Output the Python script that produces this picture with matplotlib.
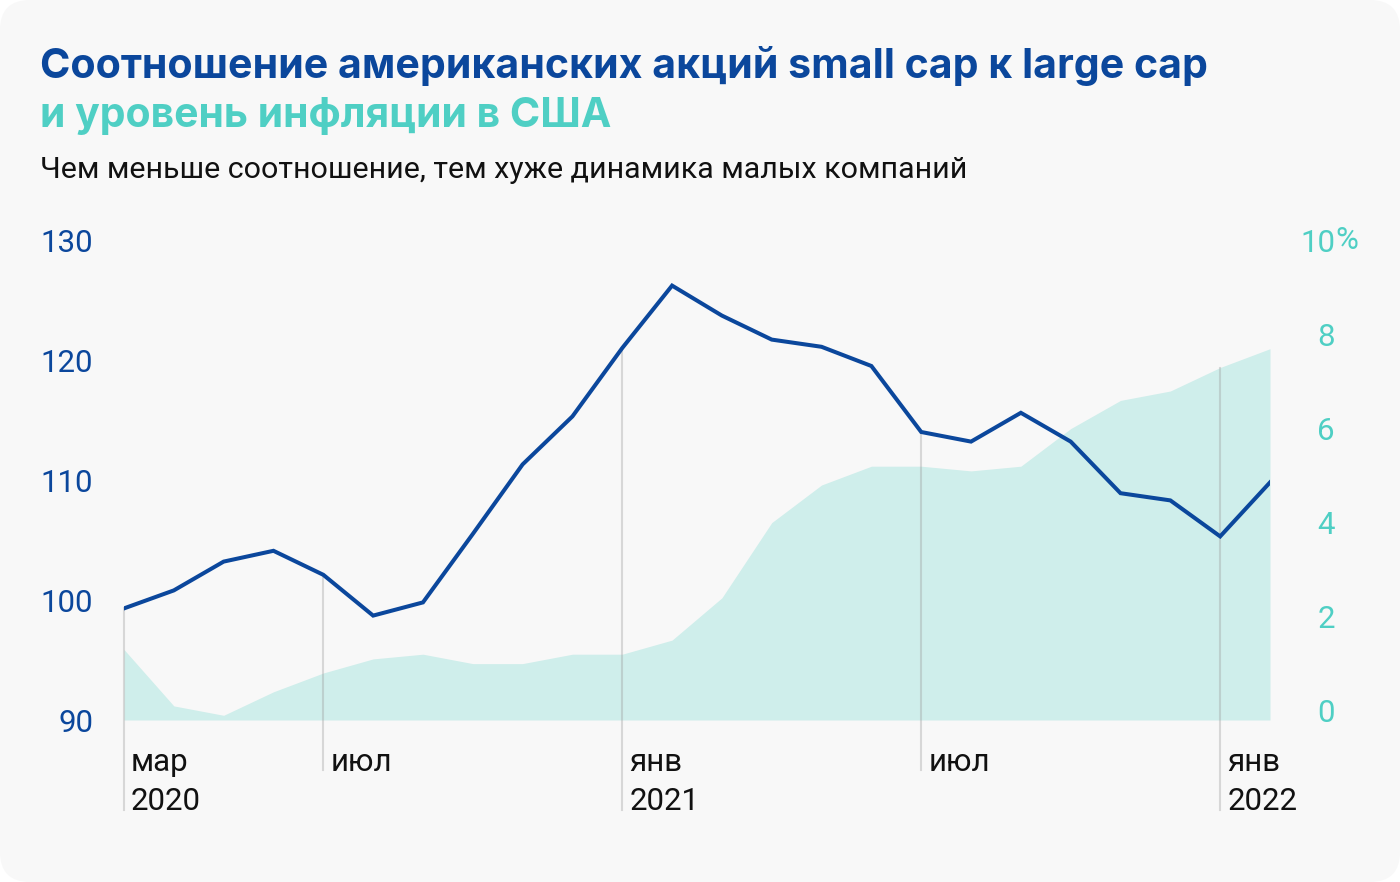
import numpy as np
import matplotlib.pyplot as plt
import matplotlib.patches as mpatches
from matplotlib.transforms import IdentityTransform, ScaledTranslation

# Monthly data, Mar 2020 .. Feb 2022
MONTHS = ["2020-03", "2020-04", "2020-05", "2020-06", "2020-07", "2020-08",
          "2020-09", "2020-10", "2020-11", "2020-12", "2021-01", "2021-02",
          "2021-03", "2021-04", "2021-05", "2021-06", "2021-07", "2021-08",
          "2021-09", "2021-10", "2021-11", "2021-12", "2022-01", "2022-02"]
# small cap / large cap ratio
RATIO = [99.3, 100.8, 103.2, 104.1, 102.1, 98.7, 99.8, 105.5, 111.3, 115.3,
         121.0, 126.2, 123.7, 121.7, 121.1, 119.5, 114.0, 113.2, 115.6, 113.2,
         108.9, 108.3, 105.3, 109.8]
# US CPI, % y/y
INFLATION = [1.5, 0.3, 0.1, 0.6, 1.0, 1.3, 1.4, 1.2, 1.2, 1.4, 1.4, 1.7,
             2.6, 4.2, 5.0, 5.4, 5.4, 5.3, 5.4, 6.2, 6.8, 7.0, 7.5, 7.9]

# x tick marks: (month index, month label, year label)
XTICKS = [(0, "мар", "2020"), (4, "июл", None), (10, "янв", "2021"),
          (16, "июл", None), (22, "янв", "2022")]
LEFT_TICKS = [90, 100, 110, 120, 130]
RIGHT_TICKS = [0, 2, 4, 6, 8, 10]

BLUE = "#0b479c"
TEAL = "#4fcfc4"
FILL = "#cfeeeb"
BG = "#f8f8f8"
FONT = "Roboto"
TITLE_FONT = "Inter"

W, H = 1400, 882
fig = plt.figure(figsize=(W / 100, H / 100), dpi=100, facecolor="white")
fig.patches.append(mpatches.FancyBboxPatch(
    (0, 0), W, H, boxstyle="round,pad=0,rounding_size=30",
    transform=IdentityTransform(), facecolor=BG, edgecolor="none", zorder=-10))
renderer = fig.canvas.get_renderer()

def px(x, y):
    return x / W, 1 - y / H

def fitted_text(x, y, s, width, size, **kw):
    # scale the font so the text spans the same width as in the reference
    t = fig.text(*px(x, y), s, fontsize=size, va="baseline", **kw)
    w = t.get_window_extent(renderer).width
    t.set_fontsize(size * width / w)
    return t

fitted_text(40, 78, "Соотношение американских акций small cap к large cap", 1165, 28,
            family=TITLE_FONT, weight="bold", color=BLUE)
fitted_text(40, 127, "и уровень инфляции в США", 572, 28,
            family=TITLE_FONT, weight="bold", color=TEAL)
fitted_text(40, 178, "Чем меньше соотношение, тем хуже динамика малых компаний", 923, 19,
            family=FONT, color="#111111")

ax_l, ax_t, ax_r, ax_b = 124, 240, 1270, 720
ax = fig.add_axes([ax_l / W, 1 - ax_b / H, (ax_r - ax_l) / W, (ax_b - ax_t) / H])
ax2 = ax.twinx()
ax.set_zorder(ax2.get_zorder() + 1)
ax.patch.set_visible(False)

x = np.arange(len(MONTHS))
ax.set_xlim(0, len(MONTHS) - 1)
ax.set_ylim(90, 130)
px_per_unit = 12.0           # left axis
infl_px = 47.0               # right axis px per 1 %
ax2.set_ylim(0, (ax_b - ax_t) / infl_px)

ax2.fill_between(x, 0, INFLATION, color=FILL, linewidth=0)
ax.plot(x, RATIO, color=BLUE, lw=2.9, solid_joinstyle="miter", zorder=5)

# vertical guide lines from the top mark down past the labels
for i, mon, yr in XTICKS:
    infl_left = 90 + INFLATION[i] * infl_px / px_per_unit
    top = max(RATIO[i], infl_left)
    bottom_px = 810 if yr else 770
    bottom = 90 - (bottom_px - ax_b) / px_per_unit
    ax.plot([i, i], [bottom, top], color="#9a9a9a", alpha=0.35, lw=1.5,
            clip_on=False, zorder=3)
    ax.text(i + 7 / 49.8, 90 - (771 - ax_b) / px_per_unit, mon, family=FONT,
            fontsize=22.5, color="#111111", va="baseline", ha="left")
    if yr:
        ax.text(i + 7 / 49.8, 90 - (810 - ax_b) / px_per_unit, yr, family=FONT,
                fontsize=22.5, color="#111111", va="baseline", ha="left")

for a in (ax, ax2):
    for s in a.spines.values():
        s.set_visible(False)
ax.set_xticks([])
ax.set_yticks(LEFT_TICKS)
ax.set_yticklabels([str(t) for t in LEFT_TICKS], family=FONT, fontsize=22.5, color=BLUE)
ax.tick_params(axis="y", length=0, pad=22.3)

ax2.set_yticks(RIGHT_TICKS)
ax2.set_yticklabels([str(t) for t in RIGHT_TICKS], family=FONT, fontsize=22.5,
                    color=TEAL, ha="right")
ax2.tick_params(axis="y", length=0, pad=(1335 - ax_r) * 0.72)
shift = ScaledTranslation(0, 10 / 100, fig.dpi_scale_trans)
for lab in ax2.get_yticklabels():
    lab.set_transform(lab.get_transform() + shift)
fig.text(*px(1335, 240), "%", family=FONT, fontsize=22.5, color=TEAL,
         va="center", ha="left")

fig.savefig("out.png", dpi=100, facecolor="white")
